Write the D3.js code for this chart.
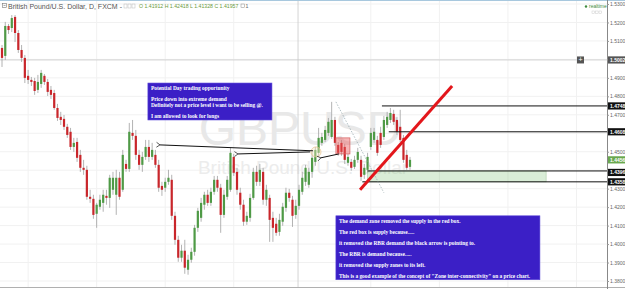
<!DOCTYPE html>
<html>
<head>
<meta charset="utf-8">
<script src="https://cdnjs.cloudflare.com/ajax/libs/d3/7.8.5/d3.min.js"></script>
<style>
  body { margin: 0; background: #fff; }
  svg { display: block; font-family: "Liberation Sans", Arial, sans-serif; }
</style>
</head>
<body>
<svg id="chart" width="625" height="289"></svg>
<script>
// GBP/USD daily candles (oldest first)
const opens = [1.5062,1.5019,1.5181,1.5170,1.5230,1.5143,1.5051,1.5008,1.4911,1.4889,1.4883,1.4835,1.4867,1.4911,1.4878,1.4835,1.4818,1.4737,1.4689,1.4678,
  1.4635,1.4608,1.4526,1.4553,1.4483,1.4413,1.4402,1.4256,1.4245,1.4164,1.4202,1.4223,1.4261,1.4250,1.4294,1.4267,1.4359,1.4294,1.4434,1.4407,
  1.4602,1.4586,1.4483,1.4429,1.4472,1.4526,1.4472,1.4483,1.4429,1.4315,1.4305,1.4337,1.4348,1.4153,1.4023,1.3926,1.3964,1.3861,1.3915,1.3958,
  1.4088,1.4142,1.4213,1.4267,1.4223,1.4283,1.4348,1.4305,1.4158,1.4256,1.4294,1.4472,1.4391,1.4278,1.4213,1.4121,1.4142,1.4250,1.4391,1.4337,
  1.4391,1.4240,1.4250,1.4142,1.4110,1.4066,1.4121,1.4196,1.4278,1.4240,1.4158,1.4207,1.4283,1.4337,1.4321,1.4391,1.4445,1.4494,1.4548,1.4564,
  1.4602,1.4580,1.4672,1.4537,1.4548,1.4526,1.4440,1.4445,1.4418,1.4456,1.4456,1.4375,1.4402,1.4526,1.4564,1.4564,1.4602,1.4580,1.4645,1.4672,
  1.4705,1.4672,1.4635,1.4575,1.4483,1.4418];
const highs = [1.5078,1.5203,1.5192,1.5240,1.5240,1.5159,1.5078,1.5024,1.4943,1.4905,1.4900,1.4916,1.4943,1.4921,1.4894,1.4856,1.4835,1.4759,1.4716,1.4699,
  1.4651,1.4629,1.4575,1.4575,1.4510,1.4456,1.4424,1.4294,1.4267,1.4223,1.4267,1.4294,1.4294,1.4375,1.4391,1.4402,1.4391,1.4510,1.4456,1.4656,
  1.4672,1.4618,1.4510,1.4499,1.4564,1.4564,1.4548,1.4510,1.4456,1.4337,1.4359,1.4402,1.4375,1.4175,1.4045,1.3996,1.4023,1.3942,1.3980,1.4104,
  1.4196,1.4250,1.4283,1.4294,1.4305,1.4369,1.4369,1.4326,1.4294,1.4369,1.4521,1.4488,1.4413,1.4305,1.4240,1.4175,1.4272,1.4413,1.4424,1.4434,
  1.4413,1.4321,1.4267,1.4175,1.4142,1.4164,1.4223,1.4305,1.4299,1.4261,1.4240,1.4321,1.4391,1.4429,1.4413,1.4499,1.4526,1.4629,1.4602,1.4640,
  1.4683,1.4770,1.4689,1.4553,1.4564,1.4543,1.4488,1.4461,1.4478,1.4521,1.4478,1.4434,1.4494,1.4629,1.4629,1.4586,1.4635,1.4694,1.4716,1.4737,
  1.4727,1.4689,1.4727,1.4591,1.4510,1.4472];
const lows = [1.4959,1.4997,1.5138,1.5148,1.5094,1.5035,1.4986,1.4872,1.4867,1.4856,1.4808,1.4818,1.4846,1.4862,1.4802,1.4786,1.4727,1.4667,1.4645,1.4618,
  1.4575,1.4510,1.4499,1.4445,1.4391,1.4375,1.4240,1.4223,1.4137,1.4088,1.4186,1.4175,1.4213,1.4196,1.4267,1.4158,1.4240,1.4283,1.4391,1.4391,
  1.4564,1.4456,1.4402,1.4391,1.4456,1.4445,1.4456,1.4413,1.4283,1.4261,1.4283,1.4321,1.4131,1.3996,1.3904,1.3904,1.3839,1.3834,1.3899,1.3937,
  1.4066,1.4121,1.4186,1.4207,1.4207,1.4267,1.4283,1.4061,1.4142,1.4240,1.4283,1.4369,1.4267,1.4186,1.4099,1.4104,1.4121,1.4240,1.4315,1.4315,
  1.4213,1.4207,1.4012,1.4012,1.4045,1.4045,1.4099,1.4175,1.4229,1.4093,1.4137,1.4186,1.4267,1.4315,1.4305,1.4359,1.4424,1.4478,1.4532,1.4553,
  1.4586,1.4570,1.4532,1.4478,1.4478,1.4434,1.4424,1.4397,1.4407,1.4440,1.4342,1.4353,1.4386,1.4510,1.4548,1.4478,1.4521,1.4564,1.4629,1.4656,
  1.4645,1.4591,1.4553,1.4440,1.4402,1.4402];
const closes = [1.5008,1.5181,1.5159,1.5224,1.5143,1.5051,1.5008,1.4900,1.4889,1.4878,1.4829,1.4878,1.4927,1.4878,1.4824,1.4808,1.4737,1.4683,1.4672,1.4635,
  1.4591,1.4526,1.4548,1.4467,1.4413,1.4402,1.4256,1.4245,1.4158,1.4213,1.4240,1.4267,1.4250,1.4359,1.4359,1.4359,1.4256,1.4483,1.4407,1.4608,
  1.4586,1.4483,1.4429,1.4472,1.4526,1.4472,1.4510,1.4429,1.4305,1.4294,1.4337,1.4359,1.4153,1.4023,1.3926,1.3964,1.3872,1.3915,1.3958,1.4088,
  1.4180,1.4223,1.4267,1.4223,1.4283,1.4348,1.4305,1.4158,1.4267,1.4348,1.4494,1.4386,1.4294,1.4213,1.4121,1.4153,1.4250,1.4391,1.4337,1.4402,
  1.4240,1.4294,1.4131,1.4088,1.4061,1.4131,1.4202,1.4278,1.4250,1.4153,1.4207,1.4294,1.4359,1.4413,1.4391,1.4467,1.4510,1.4575,1.4580,1.4618,
  1.4662,1.4672,1.4548,1.4494,1.4499,1.4456,1.4472,1.4413,1.4456,1.4499,1.4364,1.4413,1.4472,1.4602,1.4608,1.4494,1.4537,1.4672,1.4689,1.4710,
  1.4662,1.4608,1.4564,1.4456,1.4413,1.4456];

const priceTicks = [1.38,1.39,1.40,1.41,1.42,1.43,1.44,1.45,1.46,1.47,1.48,1.49,1.50,1.51,1.52,1.53];
const gridBars = [8, 29, 50, 71, 113, 134, 155, 176];

// horizontal levels drawn on the chart (price, first bar)
const levelPrices = [1.4748, 1.4608];
const levelStart = [116.4, 118.5];
const zoneTop = 1.4396, zoneBottom = 1.4337;
const zoneStart = 112, zoneEnd = 166.7;

const crossBar = 90.7, crossPrice = 1.4997;
const headerTitle = "British Pound/U.S. Dollar, D, FXCM -";
const headerOHLC = "O 1.41912  H 1.42418  L 1.41328  C 1.41957";

const note1 = ["Potential Day trading opportunity", "", "Price down into extreme demand",
  "Definitely not a price level i want to be selling @.", "", "I am allowed to look for longs"];
const note2 = ["The demand zone removed the supply in the red box.", "",
  "The red box is supply because.....", "",
  "it removed the RBR demand the black arrow is pointing to.", "",
  "The RBR is demand because.....", "",
  "it removed the supply zones to its left.", "",
  "This is a good example of the concept of \"Zone inter-connectivity\" on a price chart."];

const W = 625, H = 289, axisX = 607;
const svg = d3.select("#chart");

const x = d3.scaleLinear().domain([0, 125]).range([2, 410]);
const y = d3.scaleLinear().domain([1.38, 1.53]).range([281, 4]);

svg.append("rect").attr("width", W).attr("height", H).attr("fill", "#fff");

const defs = svg.append("defs");
defs.append("clipPath").attr("id", "plot").append("rect")
  .attr("x", 0).attr("y", 0).attr("width", axisX).attr("height", 287);
defs.append("marker").attr("id", "head")
  .attr("viewBox", "-1 -5 8 10").attr("refX", 0).attr("refY", 0)
  .attr("markerWidth", 7).attr("markerHeight", 7).attr("orient", "auto-start-reverse")
  .attr("markerUnits", "userSpaceOnUse")
  .append("path").attr("d", "M5,-3.5 L0,0 L5,3.5").attr("fill", "none")
  .attr("stroke", "#111").attr("stroke-width", 1);

const g = svg.append("g").attr("clip-path", "url(#plot)");

// faint grid
g.selectAll(".hg").data(priceTicks).join("line")
  .attr("x1", 0).attr("x2", axisX).attr("y1", d => y(d)).attr("y2", d => y(d))
  .attr("stroke", "#f1f1f1");
g.selectAll(".vg").data(gridBars).join("line")
  .attr("x1", d => x(d)).attr("x2", d => x(d)).attr("y1", 0).attr("y2", 287)
  .attr("stroke", "#f1f1f1");

// watermark
g.append("text").attr("x", 300).attr("y", 145).attr("text-anchor", "middle")
  .attr("font-size", 48).attr("fill", "#e8e8e8").text("GBPUSD");
g.append("text").attr("x", 303).attr("y", 174).attr("text-anchor", "middle")
  .attr("font-size", 19).attr("fill", "#ececec").text("British Pound/U.S. Dollar");

// crosshair
g.append("line").attr("x1", 0).attr("x2", axisX).attr("y1", y(crossPrice)).attr("y2", y(crossPrice))
  .attr("stroke", "#c9c9c9").attr("stroke-width", 0.8);
g.append("line").attr("x1", x(crossBar)).attr("x2", x(crossBar)).attr("y1", 0).attr("y2", 287)
  .attr("stroke", "#c9c9c9").attr("stroke-width", 0.8);

// candles
const candles = opens.map((o, i) => ({ i, o, h: highs[i], l: lows[i], c: closes[i] }));
g.selectAll(".wick").data(candles).join("line")
  .attr("x1", d => x(d.i)).attr("x2", d => x(d.i))
  .attr("y1", d => y(d.h)).attr("y2", d => y(d.l))
  .attr("stroke", "#a0a0a0").attr("stroke-width", 0.8);
g.selectAll(".body").data(candles).join("rect")
  .attr("x", d => x(d.i) - 1.1).attr("width", 2.2)
  .attr("y", d => y(Math.max(d.o, d.c)))
  .attr("height", d => Math.max(0.8, Math.abs(y(d.o) - y(d.c))))
  .attr("fill", d => d.c >= d.o ? "#4f9a46" : "#c9262b");

// demand zone
g.append("rect").attr("x", x(zoneStart)).attr("width", x(zoneEnd) - x(zoneStart))
  .attr("y", y(zoneTop)).attr("height", y(zoneBottom) - y(zoneTop))
  .attr("fill", "rgba(120,190,110,0.28)").attr("stroke", "#a9c9a4").attr("stroke-width", 0.6);
[zoneTop, zoneBottom].forEach((p, k) => {
  g.append("line").attr("x1", x(k ? 110.4 : zoneStart)).attr("x2", axisX)
    .attr("y1", y(p)).attr("y2", y(p)).attr("stroke", "#111").attr("stroke-width", 1);
});

// horizontal levels
g.selectAll(".lvl").data(levelPrices).join("line")
  .attr("x1", (d, i) => x(levelStart[i])).attr("x2", axisX)
  .attr("y1", d => y(d)).attr("y2", d => y(d))
  .attr("stroke", "#111").attr("stroke-width", 1);

// red supply box
g.append("rect").attr("x", x(102.3)).attr("width", x(106.6) - x(102.3))
  .attr("y", y(1.4575)).attr("height", y(1.4488) - y(1.4575))
  .attr("fill", "rgba(235,90,90,0.45)").attr("stroke", "#d46060").attr("stroke-width", 0.7);

// dotted swing line
g.append("line").attr("x1", x(102.3)).attr("y1", y(1.4770)).attr("x2", x(117)).attr("y2", y(1.4278))
  .attr("stroke", "#8fa3a8").attr("stroke-width", 0.7).attr("stroke-dasharray", "1.5,1.5");

// circle around RBR
g.append("circle").attr("cx", x(96.2)).attr("cy", y(1.4499)).attr("r", 5)
  .attr("fill", "rgba(250,235,200,0.4)").attr("stroke", "#e6c28c").attr("stroke-width", 0.7);

// arrows
const arrows = [
  [95.3, 1.4505, 48.4, 1.4537],
  [94.4, 1.4499, 72.3, 1.4488],
  [103.2, 1.4488, 97.7, 1.4467]
];
g.selectAll(".arrow").data(arrows).join("line")
  .attr("x1", d => x(d[0])).attr("y1", d => y(d[1]))
  .attr("x2", d => x(d[2])).attr("y2", d => y(d[3]))
  .attr("stroke", "#111").attr("stroke-width", 1)
  .attr("marker-end", "url(#head)");

// red trendline
g.append("line").attr("x1", x(109.7)).attr("y1", y(1.4294)).attr("x2", x(137.9)).attr("y2", y(1.4856))
  .attr("stroke", "#e3161b").attr("stroke-width", 3);

// text notes
function note(lines, i0, i1, p0, p1) {
  const bx = x(i0), by = y(p0);
  g.append("rect").attr("x", bx).attr("y", by).attr("width", x(i1) - bx).attr("height", y(p1) - by)
    .attr("fill", "#3b1fc6").attr("stroke", "#5a46d8").attr("stroke-width", 0.6);
  g.append("g").selectAll("text").data(lines).join("text")
    .attr("x", bx + 3).attr("y", (d, k) => by + 7 + k * 5.5)
    .attr("font-family", "'Liberation Serif', 'Times New Roman', serif")
    .attr("font-weight", "bold").attr("font-size", 5.4).attr("fill", "#fff")
    .text(d => d);
}
note(note1, 44.7, 82.7, 1.4872, 1.4672);
note(note2, 102.3, 164.8, 1.4153, 1.3807);

// frame lines
svg.append("line").attr("x1", 0).attr("x2", W).attr("y1", 0.5).attr("y2", 0.5).attr("stroke", "#a8c8de");
svg.append("line").attr("x1", 0).attr("x2", W).attr("y1", 287.5).attr("y2", 287.5).attr("stroke", "#b0b0b0");

// price tags on the axis
const tags = [
  { p: crossPrice, t: "1.50020", bg: "#555", yOff: 0 },
  { p: levelPrices[0], t: "1.47480", bg: "#111", yOff: 0 },
  { p: levelPrices[1], t: "1.46080", bg: "#111", yOff: 0 },
  { p: closes[closes.length - 1], t: "1.44560", bg: "#6aa84f", yOff: 0 },
  { p: zoneTop, t: "1.43963", bg: "#111", yOff: 1.5 },
  { p: zoneBottom, t: "1.43587", bg: "#111", yOff: 0 }
];

// price axis (labels hidden where a tag sits on top of them)
const covered = v => tags.some(t => Math.abs(y(t.p) + t.yOff - y(v)) < 6);
const axis = svg.append("g").attr("transform", `translate(${axisX},0)`)
  .call(d3.axisRight(y).tickValues(priceTicks).tickSize(2).tickFormat(d3.format(".5f")));
axis.select(".domain").attr("stroke", "#888").attr("d", "M0.5,0V289");
axis.selectAll(".tick line").attr("stroke", "#999");
axis.selectAll(".tick text").attr("font-size", 5).attr("fill", "#666").attr("x", 3)
  .attr("font-family", "'Liberation Sans', Arial, sans-serif")
  .style("display", d => covered(d) ? "none" : null);

const tg = svg.append("g").selectAll("g").data(tags).join("g")
  .attr("transform", d => `translate(${axisX + 1},${y(d.p) + d.yOff})`);
tg.append("rect").attr("x", 0).attr("y", -3.6).attr("width", 19).attr("height", 7.2).attr("fill", d => d.bg);
tg.append("text").attr("x", 2).attr("y", 1.8).attr("font-size", 5).attr("font-weight", "bold")
  .attr("fill", "#fff").text(d => d.t);
svg.append("rect").attr("x", 577).attr("y", y(crossPrice) - 3.5).attr("width", 7).attr("height", 7).attr("fill", "#555");
svg.append("text").attr("x", 580.5).attr("y", y(crossPrice) + 2.3).attr("text-anchor", "middle")
  .attr("font-size", 7).attr("fill", "#fff").text("+");

// header
svg.append("rect").attr("x", 2.5).attr("y", 3.5).attr("width", 4).attr("height", 4).attr("fill", "none").attr("stroke", "#777").attr("stroke-width", 0.6);
svg.append("line").attr("x1", 3.5).attr("x2", 5.5).attr("y1", 5.5).attr("y2", 5.5).attr("stroke", "#777").attr("stroke-width", 0.6);
svg.append("text").attr("x", 8).attr("y", 8.5).attr("font-size", 7).attr("fill", "#555").text(headerTitle);
svg.selectAll(".hbx").data([0, 1, 2]).join("rect")
  .attr("x", d => 124 + d * 4).attr("y", 4).attr("width", 3).attr("height", 4)
  .attr("fill", "none").attr("stroke", "#bbb").attr("stroke-width", 0.5);
svg.append("text").attr("x", 139).attr("y", 8).attr("font-size", 5.2).attr("fill", "#6b9a3c").text(headerOHLC);
svg.append("rect").attr("x", 241).attr("y", 4).attr("width", 3.5).attr("height", 3.5).attr("fill", "none").attr("stroke", "#888").attr("stroke-width", 0.5);
svg.append("text").attr("x", 245.5).attr("y", 8).attr("font-size", 5.2).attr("fill", "#666").text("1");

// realtime badge
svg.append("circle").attr("cx", 586).attr("cy", 6.5).attr("r", 1.2).attr("fill", "#3d8b3d");
svg.append("text").attr("x", 589).attr("y", 8.3).attr("font-size", 5).attr("fill", "#3d8b3d").text("realtime");
svg.selectAll(".ibx").data([0, 1, 2]).join("rect")
  .attr("x", d => 592 + d * 3.5).attr("y", 11).attr("width", 2.6).attr("height", 2.6)
  .attr("fill", "none").attr("stroke", "#ccc").attr("stroke-width", 0.5);
</script>
</body>
</html>
